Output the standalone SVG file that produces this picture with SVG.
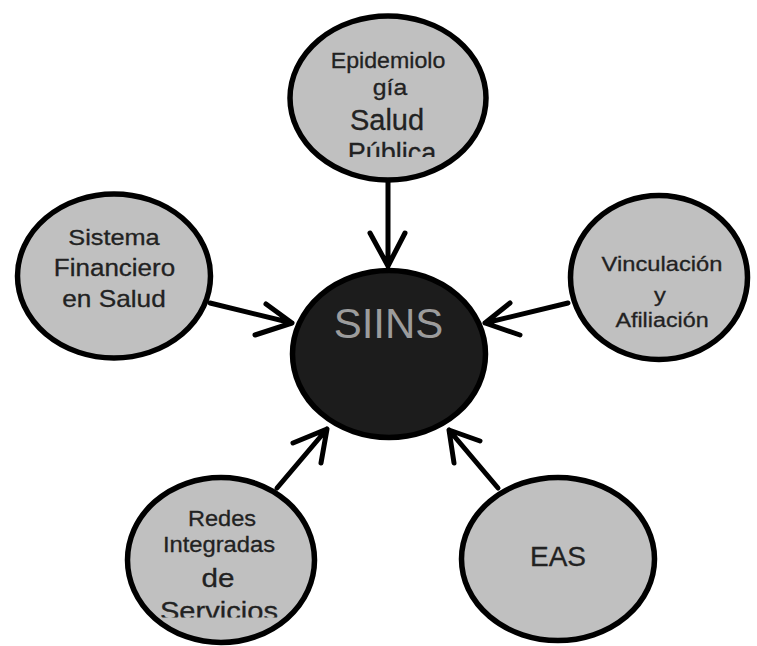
<svg xmlns="http://www.w3.org/2000/svg" width="757" height="646" viewBox="0 0 757 646">
<style>
.node{fill:#c0c0c0;stroke:#000;stroke-width:5.5}
.hub{fill:#1c1c1c;stroke:#000;stroke-width:5.5}
.t{font-family:"Liberation Sans",Arial,sans-serif;fill:#222;stroke:#222;stroke-width:0.3;text-anchor:middle}
.hubt{font-family:"Liberation Sans",Arial,sans-serif;fill:#9c9c9c;text-anchor:middle;font-size:42px}
.c{fill:none;stroke:#000;stroke-width:5;stroke-linecap:round;stroke-linejoin:round}
</style>
<defs>
<clipPath id="clipTop"><rect x="280" y="0" width="220" height="157"/></clipPath>
<clipPath id="clipRedes"><rect x="110" y="460" width="220" height="157.5"/></clipPath>
</defs>
<rect width="757" height="646" fill="#fff"/>
<g id="connectors">
<path class="c" d="M388 182 L388 266 M370 233 L388 266 L405 233"/>
<path class="c" d="M210 303 L292 323 M266 304 L292 323 L255 335"/>
<path class="c" d="M568 303 L485 323 M510 303 L485 323 L520 335"/>
<path class="c" d="M277 488 L327 429 M293 443 L327 429 L321 463"/>
<path class="c" d="M498 488 L449 430 M480 441 L449 430 L454 463"/>
</g>
<g id="node-epidemiologia">
<ellipse class="node" cx="388" cy="98" rx="98" ry="82"/>
<g clip-path="url(#clipTop)">
<text class="t" transform="translate(388 68) scale(1.03 1)" font-size="22.5">Epidemiolo</text>
<text class="t" transform="translate(390 95) scale(1.1 1)" font-size="22.5">gía</text>
<text class="t" transform="translate(387 130)" font-size="29">Salud</text>
<text class="t" transform="translate(392 162)" font-size="27">Pública</text>
</g>
</g>
<g id="node-sistema">
<ellipse class="node" cx="114" cy="276" rx="96.5" ry="82"/>
<text class="t" transform="translate(114 245) scale(1.15 1)" font-size="22">Sistema</text>
<text class="t" transform="translate(114.5 276) scale(1.13 1)" font-size="23">Financiero</text>
<text class="t" transform="translate(114 307) scale(1.14 1)" font-size="23">en Salud</text>
</g>
<g id="node-vinculacion">
<ellipse class="node" cx="659" cy="277.5" rx="88.5" ry="82"/>
<text class="t" transform="translate(662 271) scale(1.13 1)" font-size="21">Vinculación</text>
<text class="t" transform="translate(660 302) scale(1.13 1)" font-size="21">y</text>
<text class="t" transform="translate(662 327) scale(1.11 1)" font-size="21">Afiliación</text>
</g>
<g id="node-redes">
<ellipse class="node" cx="221" cy="560" rx="93.5" ry="82.5"/>
<g clip-path="url(#clipRedes)">
<text class="t" transform="translate(222 526) scale(1.07 1)" font-size="22">Redes</text>
<text class="t" transform="translate(219 552) scale(1.08 1)" font-size="22">Integradas</text>
<text class="t" transform="translate(218 587) scale(1.14 1)" font-size="26">de</text>
<text class="t" transform="translate(219 620) scale(1.12 1)" font-size="26">Servicios</text>
</g>
</g>
<g id="node-eas">
<ellipse class="node" cx="558" cy="559" rx="96.5" ry="81.5"/>
<text class="t" transform="translate(558 566)" font-size="28">EAS</text>
</g>
<g id="node-siins">
<ellipse class="hub" cx="389" cy="354" rx="96.5" ry="83.5"/>
<text class="hubt" transform="translate(388.5 338)">SIINS</text>
</g>
</svg>
